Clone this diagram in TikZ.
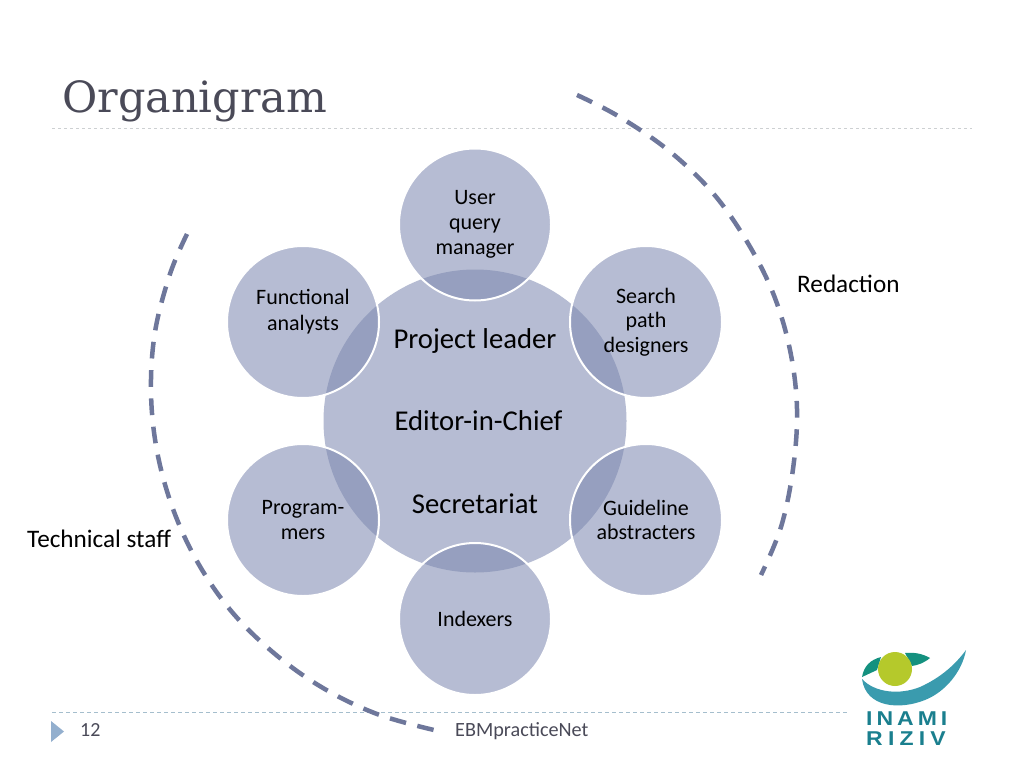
\documentclass[tikz,border=0pt]{standalone}
\usepackage{fontspec}
\setmainfont{Carlito}
\newfontfamily\titlefont{DejaVu Serif}
\newfontfamily\logofont[LetterSpace=20,FakeStretch=1.15]{Liberation Sans}
\newfontfamily\logofontwide[LetterSpace=26,FakeStretch=1.15]{Liberation Sans}
\definecolor{disc}{RGB}{125,136,176}
\definecolor{arcblue}{RGB}{110,119,155}
\definecolor{titleink}{RGB}{74,74,88}
\definecolor{ruleup}{RGB}{205,208,210}
\definecolor{ruledown}{RGB}{165,190,205}
\definecolor{tri}{RGB}{147,175,206}
\definecolor{swoosh}{RGB}{58,155,174}
\definecolor{lid}{RGB}{20,145,127}
\definecolor{iris}{RGB}{181,201,43}
\definecolor{logoink}{RGB}{26,127,142}
\tikzset{
  x=1pt,y=-1pt,
  hub/.style={circle,inner sep=0pt,minimum size=303pt,fill=disc,fill opacity=.556,text opacity=1,align=center,font=\fontsize{28.7}{82.5}\selectfont},
  sat/.style={circle,inner sep=0pt,minimum size=152pt,fill=disc,fill opacity=.556,text opacity=1,draw=white,draw opacity=1,line width=2pt,align=center,font=\fontsize{22}{24.7}\selectfont},
  bigarc/.style={draw=arcblue,line width=4.5pt,dash pattern=on 16.7pt off 11.65pt},
  label/.style={inner sep=0pt,font=\fontsize{25.2}{28}\selectfont,text=black},
}
\begin{document}
\begin{tikzpicture}
\useasboundingbox (0,0) rectangle (1024,768);
\fill[white] (0,0) rectangle (1024,768);
% title and rules
\node[inner sep=0pt,anchor=base west,text=titleink,font=\fontsize{43}{47}\titlefont] (title) at (62,112) {Organigram};
\draw[ruleup,line width=1pt,dash pattern=on 3pt off 3pt] (52,128) -- (972,128);
\draw[ruledown,line width=1pt,dash pattern=on 4pt off 3pt] (52,712) -- (848,712);
% discs
\node[hub] (hub) at (475,421) {Project leader\\\hspace*{7pt}Editor-in-Chief\\Secretariat};
\node[sat] (user) at (475,224.5) {User\\query\\manager};
\node[sat] (search) at (646,322) {Search\\path\\designers};
\node[sat] (guide) at (646,520) {Guideline\\abstracters};
\node[sat] (index) at (475,619) {Indexers};
\node[sat] (prog) at (303,520) {Program-\\mers};
\node[sat] (func) at (303,322) {Functional\\[1.5pt]analysts\\\mbox{}};
% arcs
\draw[bigarc] plot[smooth,tension=.6] coordinates {(577,95) (618,116) (668,150) (712,192) (746,240) (773,293) (790,350) (797,409) (793,469) (781,527) (761,575)};
\draw[bigarc] plot[smooth,tension=.6] coordinates {(187,234) (170,274) (155,332) (151,392) (157,451) (173,509) (198,563) (232,612) (275,654) (323,688) (377,714) (434,730)};
% labels
\node[label,anchor=base west] (red) at (797,292) {Redaction};
\node[label,anchor=base west] (tech) at (27,547) {Technical staff};
% footer
\fill[tri] (51,721) -- (64,731.5) -- (51,742) -- cycle;
\node[inner sep=0pt,anchor=base west,text=titleink,font=\fontsize{20}{22}\selectfont] (num) at (80,736) {12};
\node[inner sep=0pt,anchor=base west,text=titleink,font=\fontsize{20.2}{22}\selectfont] (foot) at (455,736) {EBMpracticeNet};
% logo
\fill[swoosh] (862,679) .. controls (875,693) and (900,695) .. (920,687) .. controls (940,678) and (955,665) .. (966,650)
  .. controls (962,672) and (945,692) .. (925,700) .. controls (900,710) and (866,708) .. (862,679) -- cycle;
\fill[lid] (862,677) .. controls (864,666) and (870,660) .. (881,657) -- (877,670) -- cycle;
\fill[lid] (905,653) .. controls (915,652) and (923,654) .. (930,658) .. controls (924,663) and (918,665) .. (912,666) -- cycle;
\fill[iris] (895,669) circle (17);
\node[inner sep=0pt,anchor=base west,text=logoink,font=\fontsize{20}{22}\logofont\bfseries] (inami) at (866,725) {INAMI};
\node[inner sep=0pt,anchor=base west,text=logoink,font=\fontsize{20}{22}\logofontwide\bfseries] (riziv) at (866,745) {RIZIV};
\end{tikzpicture}
\end{document}
